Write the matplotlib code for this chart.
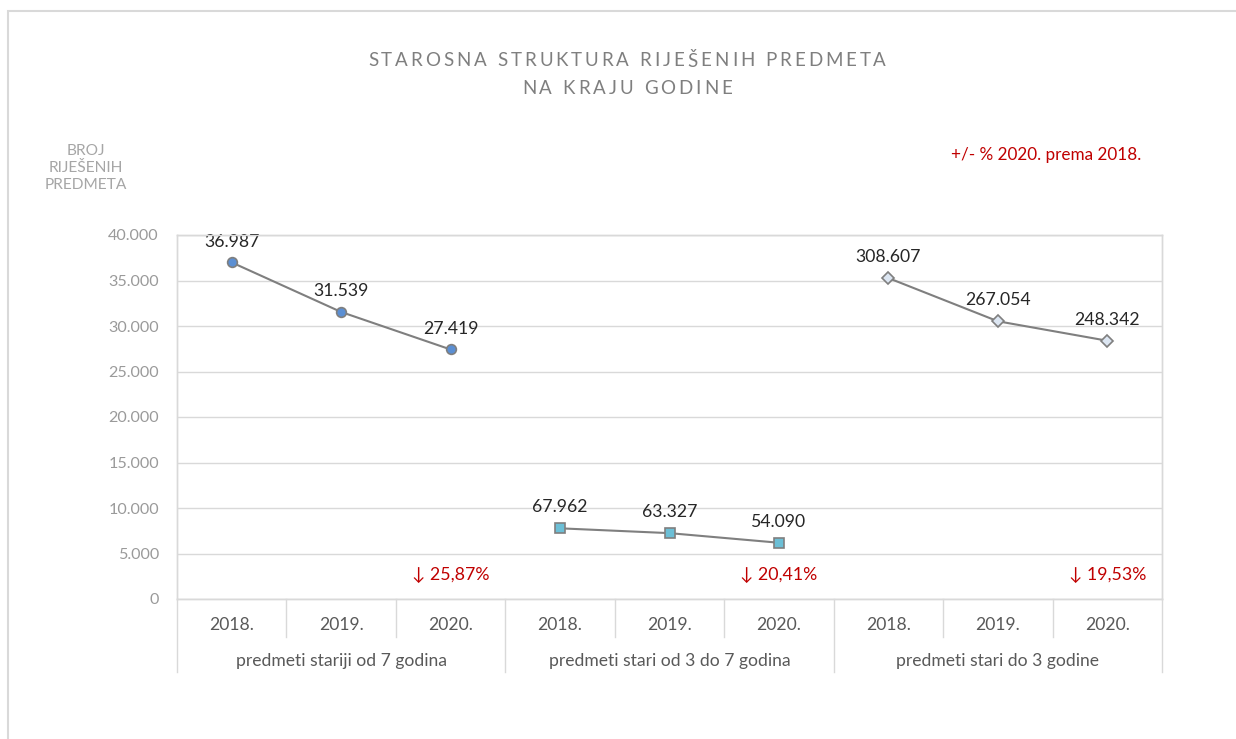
import matplotlib.pyplot as plt
from matplotlib.patches import Rectangle
import matplotlib.transforms as mtransforms

# data
groups = ["predmeti stariji od 7 godina", "predmeti stari od 3 do 7 godina", "predmeti stari do 3 godine"]
years = ["2018.", "2019.", "2020."]
stariji_7 = [36987, 31539, 27419]
od_3_do_7 = [67962, 63327, 54090]
do_3 = [308607, 267054, 248342]
change_labels = ["\u2193 25,87%", "\u2193 20,41%", "\u2193 19,53%"]

W, H = 1236, 739
FONT = ["Lato", "DejaVu Sans"]
plt.rcParams["font.family"] = FONT


def fmt(v):
    return f"{v:,}".replace(",", ".")


def spaced_text(fig, cx, y, s, gap, **kw):
    # draw text with extra letter spacing (pixel coords, y from top)
    r = fig.canvas.get_renderer()

    def width(t):
        tt = fig.text(0, 0, t, **kw)
        w = tt.get_window_extent(r).width
        tt.remove()
        return w

    sp = width("x x") - width("xx")
    widths = [sp if c == " " else width(c) for c in s]
    total = sum(widths) + gap * (len(s) - 1)
    x = cx - total / 2
    for c, cw in zip(s, widths):
        if c != " ":
            fig.text(x / W, 1 - y / H, c, ha="left", va="center", **kw)
        x += cw + gap


fig = plt.figure(figsize=(W / 100, H / 100), dpi=100)
fig.add_artist(Rectangle((8 / W, -0.5), 2, 1.5 - 11 / H, fill=False,
                         edgecolor="#d9d9d9", lw=1.5, transform=fig.transFigure))

ax = fig.add_axes([177 / W, 1 - 599 / H, 985 / W, 364 / H])
ax2 = ax.twinx()

n = len(years)
x1 = [i for i in range(n)]
x2 = [n + i for i in range(n)]
x3 = [2 * n + i for i in range(n)]

line_kw = dict(color="#7f7f7f", lw=1.5, markeredgecolor="#7f7f7f", markeredgewidth=1.2, zorder=5)
ax.plot(x1, stariji_7, marker="o", markersize=7, markerfacecolor="#5b8fd3", **line_kw)
ax2.plot(x2, od_3_do_7, marker="s", markersize=6.5, markerfacecolor="#6cbfd6", **line_kw)
ax2.plot(x3, do_3, marker="D", markersize=6.5, markerfacecolor="#dce6f2", **line_kw)

lab_kw = dict(textcoords="offset points", ha="center", va="center", fontsize=12.7, color="#262626")
for x, v in zip(x1, stariji_7):
    ax.annotate(fmt(v), (x, v), xytext=(0, 15), **lab_kw)
for x, v in zip(x2 + x3, od_3_do_7 + do_3):
    ax2.annotate(fmt(v), (x, v), xytext=(0, 15), **lab_kw)

for g, lab in enumerate(change_labels):
    ax.text(g * n + n - 1, 2650, lab, ha="center", va="center", fontsize=12.8,
            color="#c00000", family=FONT)

ax.set_xlim(-0.5, 3 * n - 0.5)
ax.set_ylim(0, 40000)
ax2.set_ylim(0, 350000)
ax2.set_yticks([])
ax.set_xticks([])
yt = list(range(0, 40001, 5000))
ax.set_yticks(yt)
ax.set_yticklabels([fmt(v) for v in yt], fontsize=11.6, color="#9a9a9a")
ax.tick_params(axis="y", length=0, pad=13)
ax.grid(axis="y", color="#d9d9d9", lw=1)
ax.set_axisbelow(True)
for a in (ax, ax2):
    for s in a.spines.values():
        s.set_color("#d9d9d9")
        s.set_linewidth(1)

# category axis: year labels, group labels and separators
trans = mtransforms.blended_transform_factory(ax.transData, ax.transAxes)
for g, name in enumerate(groups):
    for i, yr in enumerate(years):
        ax.text(g * n + i, -0.072, yr, transform=trans, ha="center", va="center",
                fontsize=12.6, color="#595959")
    ax.text(g * n + (n - 1) / 2, -0.17, name, transform=trans, ha="center", va="center",
            fontsize=12.6, color="#595959")
for k in range(3 * n + 1):
    xb = k - 0.5
    low = -0.2 if k % n == 0 else -0.104
    ax.plot([xb, xb], [0, low], transform=trans, color="#d9d9d9", lw=1, clip_on=False)

# texts around the plot
tkw = dict(fontsize=13.5, color="#7f7f7f")
spaced_text(fig, 627, 61, "STAROSNA STRUKTURA RIJEŠENIH PREDMETA", 2.95, **tkw)
spaced_text(fig, 627, 88, "NA KRAJU GODINE", 2.95, **tkw)

fig.text(86 / W, 1 - 168 / H, "BROJ\nRIJEŠENIH\nPREDMETA", ha="center", va="center",
         fontsize=11.2, color="#a6a6a6", linespacing=1.3)
fig.text(1046 / W, 1 - 155 / H, "+/- % 2020. prema 2018.", ha="center", va="center",
         fontsize=12.3, color="#c00000")

fig.savefig("out.png", dpi=100)
